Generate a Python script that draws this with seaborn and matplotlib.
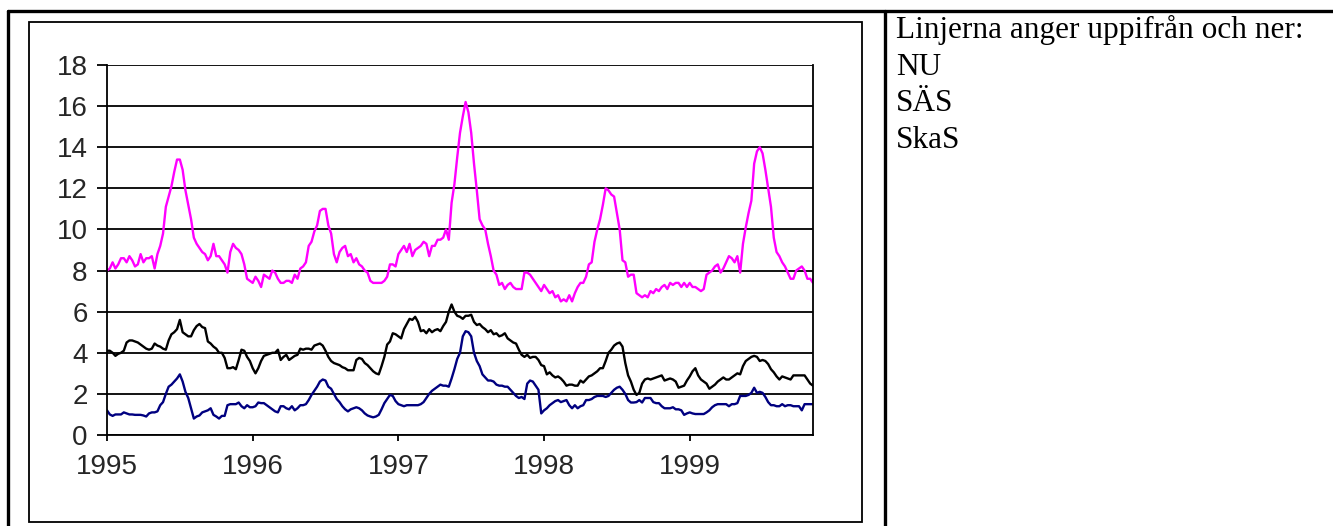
import numpy as np
import pandas as pd
import matplotlib
matplotlib.use("Agg")
import matplotlib.pyplot as plt
from matplotlib.lines import Line2D
from matplotlib.patches import Rectangle
import seaborn as sns

# ---------------- data (weekly, 1995 w1 .. 1999 ~w45) ----------------
year_labels = ["1995", "1996", "1997", "1998", "1999"]
year_start_week = [0, 52, 104, 156, 208]
series_names = ["NU", "SÄS", "SkaS"]
header_text = "Linjerna anger uppifrån och ner:"

nu = [
    8.0, 8.1, 8.4, 8.1, 8.3, 8.6, 8.6, 8.4, 8.7, 8.5,
    8.2, 8.3, 8.8, 8.4, 8.6, 8.6, 8.7, 8.1, 8.8, 9.2,
    9.8, 11.1, 11.6, 12.1, 12.8, 13.4, 13.4, 12.9, 11.9, 11.2,
    10.5, 9.6, 9.3, 9.1, 8.9, 8.8, 8.5, 8.7, 9.3, 8.7,
    8.7, 8.5, 8.3, 7.9, 8.9, 9.3, 9.1, 9.0, 8.8, 8.3,
    7.6, 7.5, 7.4, 7.7, 7.5, 7.2, 7.8, 7.7, 7.6, 8.0,
    7.9, 7.6, 7.4, 7.4, 7.5, 7.5, 7.4, 7.8, 7.6, 8.1,
    8.2, 8.4, 9.2, 9.4, 9.9, 10.2, 10.9, 11.0, 11.0, 10.2,
    9.8, 8.8, 8.4, 8.9, 9.1, 9.2, 8.7, 8.8, 8.4, 8.6,
    8.3, 8.2, 8.0, 7.9, 7.5, 7.4, 7.4, 7.4, 7.4, 7.5,
    7.7, 8.3, 8.3, 8.2, 8.8, 9.0, 9.2, 8.9, 9.3, 8.7,
    9.0, 9.1, 9.2, 9.4, 9.3, 8.7, 9.2, 9.2, 9.5, 9.5,
    9.6, 10.0, 9.5, 11.3, 12.2, 13.5, 14.7, 15.5, 16.2, 15.7,
    14.7, 13.2, 11.9, 10.5, 10.2, 10.0, 9.3, 8.7, 8.0, 7.8,
    7.3, 7.4, 7.1, 7.3, 7.4, 7.2, 7.1, 7.1, 7.1, 7.9,
    7.9, 7.8, 7.6, 7.4, 7.2, 7.0, 7.3, 7.1, 6.9, 7.0,
    6.7, 6.8, 6.5, 6.6, 6.5, 6.8, 6.5, 6.9, 7.2, 7.4,
    7.4, 7.7, 8.3, 8.4, 9.4, 10.0, 10.5, 11.2, 12.0, 11.9,
    11.7, 11.6, 10.8, 10.0, 8.5, 8.4, 7.7, 7.8, 7.8, 6.9,
    6.8, 6.7, 6.8, 6.7, 7.0, 6.9, 7.1, 7.0, 7.2, 7.3,
    7.1, 7.4, 7.3, 7.4, 7.4, 7.2, 7.4, 7.2, 7.4, 7.2,
    7.2, 7.1, 7.0, 7.1, 7.8, 7.9, 8.0, 8.2, 8.3, 7.9,
    8.1, 8.4, 8.7, 8.6, 8.4, 8.7, 7.9, 9.3, 10.1, 10.8,
    11.4, 13.2, 13.8, 14.0, 13.7, 12.9, 12.0, 11.1, 9.6, 8.9,
    8.7, 8.4, 8.2, 7.9, 7.6, 7.6, 8.0, 8.1, 8.2, 8.0,
    7.6, 7.6, 7.4,
]

sas = [
    4.1, 4.1, 4.0, 3.85, 3.95, 4.0, 4.1, 4.5, 4.6, 4.6,
    4.55, 4.5, 4.4, 4.3, 4.2, 4.15, 4.2, 4.45, 4.35, 4.3,
    4.2, 4.15, 4.6, 4.9, 5.0, 5.15, 5.6, 5.0, 4.9, 4.8,
    4.8, 5.1, 5.3, 5.4, 5.25, 5.2, 4.55, 4.45, 4.3, 4.2,
    4.0, 4.0, 3.75, 3.25, 3.25, 3.3, 3.2, 3.65, 4.15, 4.1,
    3.8, 3.6, 3.25, 3.0, 3.25, 3.6, 3.85, 3.9, 3.95, 4.0,
    4.0, 4.15, 3.65, 3.8, 3.9, 3.65, 3.75, 3.85, 3.9, 4.2,
    4.15, 4.2, 4.2, 4.15, 4.35, 4.4, 4.45, 4.35, 4.1, 3.8,
    3.6, 3.5, 3.45, 3.4, 3.3, 3.25, 3.15, 3.15, 3.15, 3.65,
    3.75, 3.7, 3.5, 3.4, 3.25, 3.1, 3.0, 2.95, 3.35, 3.8,
    4.4, 4.55, 4.95, 4.9, 4.8, 4.7, 5.15, 5.4, 5.65, 5.6,
    5.75, 5.5, 5.05, 5.1, 4.95, 5.15, 5.0, 5.1, 5.15, 5.05,
    5.3, 5.5, 6.0, 6.35, 6.0, 5.8, 5.75, 5.65, 5.8, 5.8,
    5.85, 5.5, 5.35, 5.4, 5.25, 5.15, 5.0, 5.1, 4.9, 4.95,
    4.8, 4.85, 4.95, 4.7, 4.6, 4.5, 4.45, 4.15, 3.9, 3.8,
    3.9, 3.75, 3.8, 3.8, 3.65, 3.4, 3.35, 2.95, 3.05, 2.9,
    2.8, 2.85, 2.75, 2.6, 2.4, 2.45, 2.45, 2.4, 2.4, 2.65,
    2.55, 2.7, 2.85, 2.9, 3.0, 3.1, 3.25, 3.25, 3.6, 4.0,
    4.15, 4.35, 4.45, 4.5, 4.3, 3.5, 2.9, 2.6, 2.2, 1.95,
    2.05, 2.5, 2.7, 2.75, 2.7, 2.75, 2.8, 2.85, 2.9, 2.65,
    2.7, 2.75, 2.7, 2.6, 2.3, 2.35, 2.4, 2.65, 2.85, 3.1,
    3.25, 2.9, 2.7, 2.6, 2.5, 2.25, 2.35, 2.45, 2.6, 2.7,
    2.8, 2.7, 2.7, 2.8, 2.9, 3.0, 2.95, 3.35, 3.6, 3.7,
    3.8, 3.85, 3.8, 3.6, 3.65, 3.6, 3.45, 3.2, 3.05, 2.85,
    2.7, 2.85, 2.8, 2.75, 2.7, 2.9, 2.9, 2.9, 2.9, 2.9,
    2.7, 2.5, 2.4,
]

skas = [
    1.2, 1.0, 0.93, 1.0, 1.0, 1.0, 1.1, 1.05, 1.0, 1.0,
    0.98, 0.98, 0.98, 0.95, 0.9, 1.05, 1.1, 1.1, 1.15, 1.45,
    1.6, 2.0, 2.35, 2.45, 2.6, 2.75, 2.95, 2.6, 2.1, 1.8,
    1.3, 0.8, 0.9, 0.95, 1.1, 1.15, 1.2, 1.3, 0.98, 0.9,
    0.8, 0.93, 0.93, 1.45, 1.5, 1.5, 1.5, 1.58, 1.4, 1.3,
    1.45, 1.35, 1.35, 1.4, 1.58, 1.55, 1.55, 1.45, 1.35, 1.25,
    1.15, 1.1, 1.4, 1.4, 1.3, 1.25, 1.4, 1.2, 1.3, 1.45,
    1.45, 1.5, 1.7, 1.95, 2.15, 2.35, 2.6, 2.7, 2.65, 2.35,
    2.25, 2.0, 1.75, 1.6, 1.4, 1.25, 1.15, 1.25, 1.3, 1.35,
    1.3, 1.2, 1.05, 0.95, 0.9, 0.86, 0.9, 0.98, 1.25, 1.55,
    1.75, 1.95, 1.9, 1.65, 1.5, 1.45, 1.4, 1.45, 1.45, 1.45,
    1.45, 1.45, 1.5, 1.6, 1.8, 2.0, 2.15, 2.25, 2.35, 2.45,
    2.4, 2.4, 2.35, 2.75, 3.2, 3.7, 4.0, 4.8, 5.05, 5.0,
    4.8, 4.0, 3.6, 3.35, 2.95, 2.8, 2.65, 2.65, 2.6, 2.45,
    2.4, 2.4, 2.35, 2.35, 2.2, 2.05, 1.9, 1.8, 1.85, 1.75,
    2.5, 2.65, 2.6, 2.4, 2.2, 1.05, 1.2, 1.3, 1.45, 1.55,
    1.65, 1.7, 1.6, 1.65, 1.7, 1.45, 1.3, 1.45, 1.3, 1.4,
    1.45, 1.7, 1.7, 1.75, 1.85, 1.9, 1.9, 1.9, 1.85, 1.9,
    2.05, 2.2, 2.3, 2.35, 2.2, 2.0, 1.7, 1.58, 1.58, 1.6,
    1.7, 1.58, 1.8, 1.8, 1.8, 1.6, 1.55, 1.55, 1.4, 1.3,
    1.3, 1.3, 1.35, 1.25, 1.25, 1.2, 0.98, 1.05, 1.1, 1.05,
    1.02, 1.02, 1.02, 1.02, 1.1, 1.2, 1.35, 1.45, 1.5, 1.5,
    1.5, 1.5, 1.4, 1.5, 1.5, 1.55, 1.9, 1.9, 1.9, 1.95,
    2.05, 2.3, 2.05, 2.1, 2.05, 1.85, 1.6, 1.45, 1.45, 1.4,
    1.4, 1.5, 1.4, 1.45, 1.45, 1.4, 1.4, 1.4, 1.2, 1.5,
    1.5, 1.5, 1.5,
]

colors = {"NU": "#FF00FF", "SÄS": "#000000", "SkaS": "#000080"}

# ---------------- figure ----------------
sns.set_style("white")
plt.rcParams["font.family"] = ["Liberation Sans", "DejaVu Sans"]

W, H = 1333, 526
fig = plt.figure(figsize=(W / 100, H / 100), dpi=100)
fig.patch.set_facecolor("white")


def fx(x):
    return x / W


def fy(y):
    return 1 - y / H


# table-like frames
outer_lw = 2.4
fig.add_artist(Line2D([fx(8), fx(1333)], [fy(11), fy(11)], color="black", lw=outer_lw, transform=fig.transFigure))
fig.add_artist(Line2D([fx(8), fx(8)], [fy(11), fy(526)], color="black", lw=outer_lw, transform=fig.transFigure))
fig.add_artist(Line2D([fx(885), fx(885)], [fy(11), fy(526)], color="black", lw=outer_lw, transform=fig.transFigure))
fig.add_artist(Rectangle((fx(29), fy(522)), fx(862) - fx(29), fy(22) - fy(522),
                         fill=False, edgecolor="black", lw=1.3, transform=fig.transFigure))

# plot area
ax = fig.add_axes([fx(107), fy(435), fx(813) - fx(107), fy(65) - fy(435)])
ax.set_facecolor("white")

df = pd.DataFrame({"week": np.arange(len(nu)), "NU": nu, "SÄS": sas, "SkaS": skas})
for name in series_names:
    sns.lineplot(data=df, x="week", y=name, color=colors[name], lw=1.7, ax=ax, legend=False)

ax.set_xlim(0, len(nu) - 1)
ax.set_ylim(0, 18)
ax.set_yticks(np.arange(0, 19, 2))
ax.set_xticks(year_start_week)
ax.set_xticklabels(year_labels)
ax.set_xlabel("")
ax.set_ylabel("")
ax.yaxis.grid(True, color="black", lw=1.3)
ax.xaxis.grid(False)
ax.set_axisbelow(True)

for side in ["left", "bottom", "right"]:
    ax.spines[side].set_visible(True)
    ax.spines[side].set_color("black")
    ax.spines[side].set_linewidth(1.3)
ax.spines["top"].set_visible(False)

ax.tick_params(axis="y", direction="out", length=7, width=1.3, color="black",
               labelsize=20, pad=7, left=True)
ax.tick_params(axis="x", direction="out", length=4, width=1.3, color="black",
               labelsize=20, pad=10, bottom=True)

# right-hand text cell
serif = ["Liberation Serif", "DejaVu Serif"]
lines_text = [header_text] + series_names
baselines = [38, 75, 111, 148]
for t, yb in zip(lines_text, baselines):
    fig.text(fx(896), fy(yb), t, family=serif, fontsize=22.5, va="baseline", ha="left", color="black")

fig.savefig("out.png", dpi=100, facecolor="white")
